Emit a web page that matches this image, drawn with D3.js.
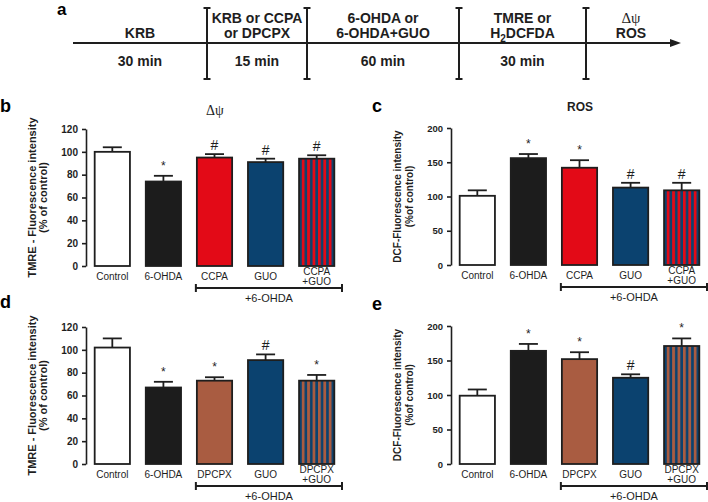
<!DOCTYPE html>
<html><head><meta charset="utf-8">
<script src="https://cdn.jsdelivr.net/npm/d3@7"></script>
<style>
body{margin:0;background:#fff;}
svg{display:block;font-family:"Liberation Sans",Arial,Helvetica,sans-serif;}
</style>
</head><body>
<svg id="fig" width="708" height="502"></svg>
<script>
// ---------- DATA ----------
// Panel a: protocol timeline
const stageLabels = [["KRB"], ["KRB or CCPA", "or DPCPX"], ["6-OHDA or", "6-OHDA+GUO"], ["TMRE or", "H2DCFDA"], ["Δψ", "ROS"]];
const stageTimes = ["30 min", "15 min", "60 min", "30 min", ""];

// Panel b: TMRE (Δψ), CCPA series
const catsB = ["Control", "6-OHDA", "CCPA", "GUO", "CCPA+GUO"];
const meanB = [100, 74, 95, 91, 94];
const errB  = [4, 5, 3, 3, 3];
const sigB  = ["", "*", "#", "#", "#"];

// Panel c: DCF (ROS), CCPA series
const catsC = ["Control", "6-OHDA", "CCPA", "GUO", "CCPA+GUO"];
const meanC = [101, 156, 142, 113, 109];
const errC  = [8, 6, 11, 7, 11];
const sigC  = ["", "*", "*", "#", "#"];

// Panel d: TMRE (Δψ), DPCPX series
const catsD = ["Control", "6-OHDA", "DPCPX", "GUO", "DPCPX+GUO"];
const meanD = [102, 67, 73, 91, 73];
const errD  = [8, 5, 3, 5, 5];
const sigD  = ["", "*", "*", "#", "*"];

// Panel e: DCF (ROS), DPCPX series
const catsE = ["Control", "6-OHDA", "DPCPX", "GUO", "DPCPX+GUO"];
const meanE = [99, 164, 152, 125, 171];
const errE  = [9, 10, 10, 5, 11];
const sigE  = ["", "*", "*", "#", "*"];

const yTicksTMRE = [0, 20, 40, 60, 80, 100, 120];
const yTicksDCF  = [0, 50, 100, 150, 200];
const groupLabel = "+6-OHDA";

// ---------- STYLE ----------
const colors = {Control: "#ffffff", "6-OHDA": "#1c1c1c", CCPA: "#e30a17", GUO: "#0b426f", DPCPX: "#a95c41"};
const ink = "#1e1e1e";

const svg = d3.select("#fig");
const defs = svg.append("defs");

// ---------- PANEL A ----------
(function(){
  const lineY = 43, x0 = 73, xTip = 681;
  const bounds = [207, 307, 459, 586];
  const edges = [x0, ...bounds, xTip - 5];
  const g = svg.append("g");
  g.append("line").attr("x1", x0).attr("x2", xTip - 8).attr("y1", lineY).attr("y2", lineY)
    .attr("stroke", ink).attr("stroke-width", 2);
  g.append("path").attr("d", d3.line()([[xTip - 11, lineY - 4], [xTip, lineY], [xTip - 11, lineY + 4]]) + "Z")
    .attr("fill", ink);
  bounds.forEach(bx => {
    g.append("line").attr("x1", bx).attr("x2", bx).attr("y1", 8).attr("y2", 79).attr("stroke", ink).attr("stroke-width", 2);
    [8, 79].forEach(yy => g.append("line").attr("x1", bx - 3.5).attr("x2", bx + 3.5).attr("y1", yy).attr("y2", yy)
      .attr("stroke", ink).attr("stroke-width", 2));
  });
  stageLabels.forEach((lines, i) => {
    const cx = (edges[i] + edges[i + 1]) / 2;
    const baselines = lines.length === 1 ? [38] : [23, 38];
    lines.forEach((t, j) => {
      const txt = g.append("text").attr("x", cx).attr("y", baselines[j]).attr("text-anchor", "middle")
        .attr("font-size", 14).attr("font-weight", "bold").attr("fill", ink);
      if (t === "H2DCFDA") {
        txt.append("tspan").text("H");
        txt.append("tspan").text("2").attr("font-size", 10).attr("dy", 4);
        txt.append("tspan").text("DCFDA").attr("dy", -4);
      } else if (t === "Δψ") {
        txt.text(t).attr("font-family", "'Liberation Serif','Times New Roman',serif").attr("font-weight", "normal").attr("font-size", 15);
      } else {
        txt.text(t);
      }
    });
    if (stageTimes[i]) {
      g.append("text").attr("x", cx).attr("y", 66).attr("text-anchor", "middle")
        .attr("font-size", 14).attr("font-weight", "bold").attr("fill", ink).text(stageTimes[i]);
    }
  });
  g.append("text").attr("x", 57).attr("y", 15).attr("font-size", 17).attr("font-weight", "bold").text("a");
})();

// ---------- BAR PANELS ----------
function panel(cfg) {
  const {id, cats, mean, err, sig, ticks, axisX, yTop, yBot, ylab, ylabX, ylabSize, tickSize, title, titleFont, letterX, letterY} = cfg;
  const g = svg.append("g");
  const x = d3.scaleBand().domain(cats).range([axisX, axisX + 257]).paddingInner(0.31).paddingOuter(0.17);
  const y = d3.scaleLinear().domain([0, d3.max(ticks)]).range([yBot, yTop]);

  // axis
  const ax = g.append("g").attr("transform", `translate(${axisX},0)`)
    .call(d3.axisLeft(y).tickValues(ticks).tickSize(4).tickSizeOuter(0).tickPadding(4));
  ax.select(".domain").attr("stroke", ink).attr("stroke-width", 1.6);
  ax.selectAll(".tick line").attr("stroke", ink).attr("stroke-width", 1.6);
  ax.selectAll(".tick text").attr("font-size", tickSize).attr("font-weight", "bold").attr("fill", ink)
    .attr("font-family", "'Liberation Sans',Arial,sans-serif");

  // stripe patterns
  cats.forEach(c => {
    if (c.includes("+")) {
      const drug = c.split("+")[0];
      const pid = `stripe-${id}`;
      const p = defs.append("pattern").attr("id", pid).attr("patternUnits", "userSpaceOnUse")
        .attr("x", x(c) + 2.7).attr("y", 0).attr("width", 5.4).attr("height", 10);
      p.append("rect").attr("width", 5.4).attr("height", 10).attr("fill", colors.GUO);
      p.append("rect").attr("x", 0).attr("width", 2.8).attr("height", 10).attr("fill", colors[drug]);
    }
  });
  const fillOf = c => c.includes("+") ? `url(#stripe-${id})` : colors[c];

  // error bars (upper only)
  const capW = 19;
  cats.forEach((c, i) => {
    const cx = x(c) + x.bandwidth() / 2;
    g.append("line").attr("x1", cx).attr("x2", cx).attr("y1", y(mean[i])).attr("y2", y(mean[i] + err[i]))
      .attr("stroke", ink).attr("stroke-width", 1.8);
    g.append("line").attr("x1", cx - capW / 2).attr("x2", cx + capW / 2)
      .attr("y1", y(mean[i] + err[i])).attr("y2", y(mean[i] + err[i]))
      .attr("stroke", ink).attr("stroke-width", 1.8);
  });

  // bars
  g.selectAll("rect.bar").data(cats).join("rect").attr("class", "bar")
    .attr("x", c => x(c)).attr("width", x.bandwidth())
    .attr("y", (c, i) => y(mean[i])).attr("height", (c, i) => y(0) - y(mean[i]))
    .attr("fill", fillOf).attr("stroke", ink).attr("stroke-width", 1.8);

  // significance marks
  cats.forEach((c, i) => {
    if (!sig[i]) return;
    const cx = x(c) + x.bandwidth() / 2;
    const top = y(mean[i] + err[i]);
    if (sig[i] === "#") {
      g.append("text").attr("x", cx).attr("y", top - 4).attr("text-anchor", "middle")
        .attr("font-size", 14).attr("fill", ink).text("#");
    } else {
      g.append("text").attr("x", cx).attr("y", top - 6).attr("text-anchor", "middle")
        .attr("font-size", 12).attr("fill", ink).text("*");
    }
  });

  // category labels
  cats.forEach(c => {
    const cx = x(c) + x.bandwidth() / 2;
    const parts = c.includes("+") ? [c.split("+")[0], "+" + c.split("+")[1]] : [c];
    const base = parts.length === 1 ? [yBot + 13.5] : [yBot + 8.5, yBot + 18.5];
    parts.forEach((t, j) => g.append("text").attr("x", cx).attr("y", base[j]).attr("text-anchor", "middle")
      .attr("font-size", 10).attr("fill", ink).text(t));
  });

  // group bracket
  const bx1 = x(cats[2]) - 1, bx2 = axisX + 256, by = yBot + 22;
  g.append("line").attr("x1", bx1).attr("x2", bx2).attr("y1", by).attr("y2", by).attr("stroke", ink).attr("stroke-width", 2);
  [bx1, bx2].forEach(bx => g.append("line").attr("x1", bx).attr("x2", bx).attr("y1", by - 4).attr("y2", by + 4)
    .attr("stroke", ink).attr("stroke-width", 2));
  g.append("text").attr("x", (bx1 + bx2) / 2).attr("y", by + 14).attr("text-anchor", "middle")
    .attr("font-size", 11).attr("fill", ink).text(groupLabel);

  // y label
  const cy = (yTop + yBot) / 2;
  ylab.forEach((t, j) => g.append("text")
    .attr("transform", `translate(${ylabX[j]},${cy}) rotate(-90)`)
    .attr("text-anchor", "middle").attr("dominant-baseline", "central")
    .attr("font-size", ylabSize).attr("font-weight", "bold").attr("fill", ink).text(t));

  // title
  if (title) {
    const tt = g.append("text").attr("x", axisX + 129).attr("y", titleFont.y).attr("text-anchor", "middle")
      .attr("fill", ink).text(title);
    if (titleFont.serif) tt.attr("font-family", "'Liberation Serif','Times New Roman',serif").attr("font-size", 14);
    else tt.attr("font-size", 12).attr("font-weight", "bold");
  }

  // panel letter
  g.append("text").attr("x", letterX).attr("y", letterY).attr("font-size", 18).attr("font-weight", "bold")
    .attr("fill", "#000").text(id);
}

panel({id: "b", cats: catsB, mean: meanB, err: errB, sig: sigB, ticks: yTicksTMRE,
  axisX: 86, yTop: 129, yBot: 266, ylab: ["TMRE - Fluorescence intensity", "(% of control)"], ylabX: [32, 43],
  ylabSize: 11, tickSize: 10, title: "Δψ", titleFont: {y: 115, serif: true}, letterX: 0, letterY: 112});

panel({id: "c", cats: catsC, mean: meanC, err: errC, sig: sigC, ticks: yTicksDCF,
  axisX: 451, yTop: 128, yBot: 265, ylab: ["DCF-Fluorescence intensity", "(%of control)"], ylabX: [397, 409],
  ylabSize: 10, tickSize: 9.5, title: "ROS", titleFont: {y: 111, serif: false}, letterX: 372, letterY: 112});

panel({id: "d", cats: catsD, mean: meanD, err: errD, sig: sigD, ticks: yTicksTMRE,
  axisX: 86, yTop: 327, yBot: 464, ylab: ["TMRE - Fluorescence intensity", "(% of control)"], ylabX: [32, 43],
  ylabSize: 11, tickSize: 10, title: null, titleFont: null, letterX: 0, letterY: 308});

panel({id: "e", cats: catsE, mean: meanE, err: errE, sig: sigE, ticks: yTicksDCF,
  axisX: 451, yTop: 326, yBot: 464, ylab: ["DCF-Fluorescence intensity", "(%of control)"], ylabX: [397, 409],
  ylabSize: 10, tickSize: 9.5, title: null, titleFont: null, letterX: 372, letterY: 310});
</script>
</body></html>
